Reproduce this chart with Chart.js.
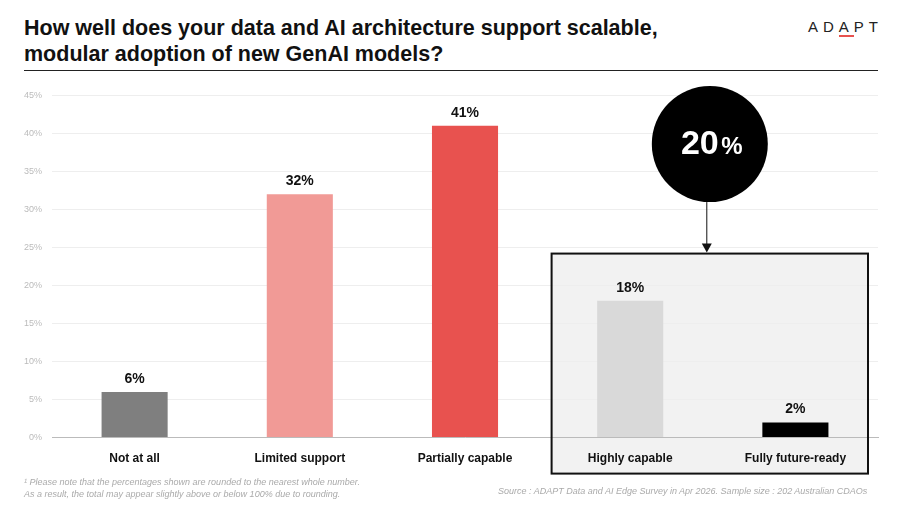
<!DOCTYPE html>
<html><head><meta charset="utf-8">
<script src="https://cdn.jsdelivr.net/npm/chart.js@4/dist/chart.umd.min.js"></script>
<style>
body{margin:0;background:#fff;font-family:"Liberation Sans",Arial,sans-serif;}
#wrap{position:relative;width:900px;height:506px;}
h1{position:absolute;left:24px;top:15px;margin:0;font-size:21.5px;line-height:26px;font-weight:bold;color:#111;width:700px;}
#rule{position:absolute;left:24px;top:70px;width:854px;border-top:1px solid #222;}
#logo{position:absolute;left:808px;top:18px;font-size:15px;letter-spacing:5px;color:#222;}
#logo span{border-bottom:2px solid #e8524f;}
#chartbox{position:absolute;left:0;top:80px;width:900px;height:400px;}
.note{position:absolute;font-style:italic;font-size:9px;color:#aaa;line-height:12px;}
</style></head><body>
<div id="wrap">
<h1>How well does your data and AI architecture support scalable, modular adoption of new GenAI models?</h1>
<div id="rule"></div>
<div id="logo">AD<span>A</span>PT</div>
<div id="chartbox"><canvas id="c"></canvas></div>
<div class="note" style="left:24px;top:476px;">¹ Please note that the percentages shown are rounded to the nearest whole number.<br>As a result, the total may appear slightly above or below 100% due to rounding.</div>
<div class="note" style="left:498px;top:485px;">Source : ADAPT Data and AI Edge Survey in Apr 2026. Sample size : 202 Australian CDAOs</div>
</div>
<script>
const categories = ['Not at all', 'Limited support', 'Partially capable', 'Highly capable', 'Fully future-ready'];
const values = [6, 32, 41, 18, 2];
const barColors = ['#7f7f7f', '#f19a96', '#e8524f', '#d9d9d9', '#000000'];
const yTicks = [0, 5, 10, 15, 20, 25, 30, 35, 40, 45];
const highlightTotal = '20';

function boxRect(chart) {
  const {scales: {x, y}} = chart;
  const left = x.getPixelForValue(2.5) + 4, right = chart.chartArea.right - 10;
  const top = y.getPixelForValue(24.2), bottom = y.getPixelForValue(0) + 36;
  return {left, right, top, bottom};
}

const overlay = {
  id: 'overlay',
  beforeDraw(chart) {
    const {ctx} = chart;
    const b = boxRect(chart);
    ctx.save();
    ctx.fillStyle = '#f2f2f2';
    ctx.fillRect(b.left, b.top, b.right - b.left, b.bottom - b.top);
    ctx.restore();
  },
  afterDatasetsDraw(chart) {
    const {ctx, scales: {x, y}} = chart;
    ctx.save();
    ctx.font = 'bold 14px "Liberation Sans", Arial';
    ctx.fillStyle = '#111';
    ctx.textAlign = 'center';
    ctx.textBaseline = 'bottom';
    values.forEach((v, i) => ctx.fillText(v + '%', x.getPixelForValue(i), y.getPixelForValue(v) - 6));
    const b = boxRect(chart);
    ctx.strokeStyle = '#111';
    ctx.lineWidth = 2;
    ctx.strokeRect(b.left, b.top, b.right - b.left, b.bottom - b.top);
    const cx = (b.left + b.right) / 2, cy = y.getPixelForValue(38.6), r = 58;
    ctx.beginPath();
    ctx.moveTo(cx - 3, cy + r); ctx.lineTo(cx - 3, b.top - 8);
    ctx.lineWidth = 1; ctx.stroke();
    ctx.beginPath();
    ctx.moveTo(cx - 8, b.top - 10); ctx.lineTo(cx + 2, b.top - 10); ctx.lineTo(cx - 3, b.top - 1); ctx.closePath();
    ctx.fillStyle = '#111'; ctx.fill();
    ctx.beginPath(); ctx.arc(cx, cy, r, 0, Math.PI * 2); ctx.fillStyle = '#000'; ctx.fill();
    ctx.fillStyle = '#fff';
    ctx.textBaseline = 'middle';
    ctx.font = 'bold 34px "Liberation Sans", Arial';
    ctx.fillText(highlightTotal, cx - 10, cy + 1);
    ctx.font = 'bold 24px "Liberation Sans", Arial';
    ctx.fillText('%', cx + 22, cy + 3);
    ctx.restore();
  }
};

new Chart(document.getElementById('c'), {
  type: 'bar',
  data: { labels: categories, datasets: [{ data: values, backgroundColor: barColors, barPercentage: 0.4, categoryPercentage: 1 }] },
  options: {
    responsive: true, maintainAspectRatio: false, animation: false,
    layout: { padding: { left: 14, right: 22, top: 6, bottom: 8 } },
    plugins: { legend: { display: false }, tooltip: { enabled: false } },
    scales: {
      y: { min: 0, max: 45, afterBuildTicks: s => { s.ticks = yTicks.map(v => ({value: v})); },
        ticks: { callback: v => v + '%', color: '#bbb', font: { size: 9, family: '"Liberation Sans", Arial' }, padding: 10 },
        grid: { color: '#eeeeee', drawTicks: false }, border: { display: false } },
      x: { ticks: { color: '#111', font: { size: 12, weight: 'bold', family: '"Liberation Sans", Arial' }, padding: 6 },
        grid: { display: false }, border: { color: '#bbb' } }
    }
  },
  plugins: [overlay]
});
</script>
</body></html>
